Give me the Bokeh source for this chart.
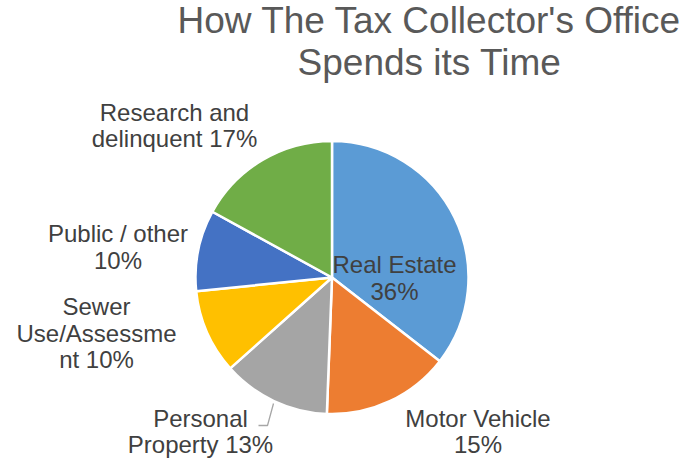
import math
from bokeh.plotting import figure
from bokeh.models import Range1d, ColumnDataSource
from bokeh.core.properties import value
from bokeh.embed import file_html
from bokeh.resources import INLINE

# ---- data ----
categories = ["Real Estate", "Motor Vehicle", "Personal Property",
              "Sewer Use/Assessment", "Public / other", "Research and delinquent"]
values = [35.5, 15.1, 12.8, 10.0, 9.6, 17.0]
colors = ["#5B9BD5", "#ED7D31", "#A5A5A5", "#FFC000", "#4472C4", "#70AD47"]
label_names = [["Real Estate"], ["Motor Vehicle"], ["Personal", "Property"],
               ["Sewer", "Use/Assessme", "nt"], ["Public / other"], ["Research and", "delinquent"]]
title_lines = ["How The Tax Collector's Office", "Spends its Time"]

# ---- layout (pixel coords of the page -> data coords) ----
W, H = 688, 459
def X(px): return px
def Y(py): return H - py

cx, cy, R = X(331.5), Y(277), 136.5
# label anchor: centre x, baseline y of first line, line step
label_pos = [(394, 273.3), (477.5, 426.7), (200, 426.7),
             (96, 315), (117.5, 242), (174, 120.7)]
line_step = 26.6
lab_shift = 9      # renderer baseline compensation
title_shift = 13

p = figure(width=W, height=H, output_backend="svg", toolbar_location=None,
           x_range=Range1d(0, W), y_range=Range1d(0, H), min_border=0)
p.axis.visible = False
p.grid.visible = False
p.outline_line_color = None
p.background_fill_color = "white"
p.border_fill_color = "white"

total = sum(values)
starts, ends = [], []
cum = 0.0
for v in values:
    starts.append(math.pi / 2 - cum / total * 2 * math.pi)
    cum += v
    ends.append(math.pi / 2 - cum / total * 2 * math.pi)

src = ColumnDataSource(dict(x=[cx] * len(values), y=[cy] * len(values),
                            start=starts, end=ends, color=colors))
p.wedge(x="x", y="y", radius=R, start_angle="start", end_angle="end",
        direction="clock", fill_color="color", line_color="white",
        line_width=2.5, source=src)

# labels
pcts = [round(v / total * 100) for v in values]
tx, ty, tt = [], [], []
for names, pct, (lx, ly) in zip(label_names, pcts, label_pos):
    lines = list(names)
    if len(lines) == 1:
        lines = [lines[0], f"{pct}%"]
    else:
        lines[-1] = f"{lines[-1]} {pct}%"
    for i, line in enumerate(lines):
        tx.append(X(lx))
        ty.append(Y(ly + i * line_step - lab_shift))
        tt.append(line)
p.text(x=tx, y=ty, text=tt, text_align="center", text_baseline="alphabetic",
       text_font=value("Liberation Sans"), text_font_size="24px",
       text_color="#404040")

# leader line for Personal Property
p.line(x=[X(258), X(267), X(273)], y=[Y(425), Y(425), Y(403)],
       line_color="#A6A6A6", line_width=1.3)

# title
p.text(x=[X(429), X(429)], y=[Y(33 - title_shift), Y(74.5 - title_shift)], text=title_lines,
       text_align="center", text_baseline="alphabetic",
       text_font=value("Liberation Sans"), text_font_size="37px",
       text_color="#595959")

open("out.html", "w").write(file_html(p, INLINE))
